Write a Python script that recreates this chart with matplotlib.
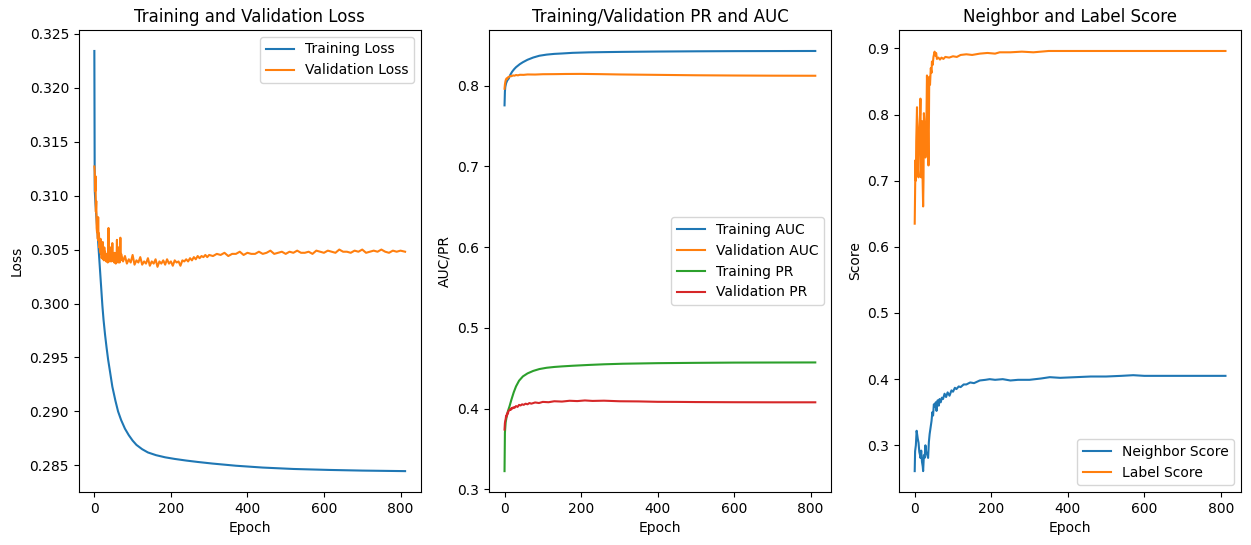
import matplotlib
matplotlib.use("Agg")
import matplotlib.pyplot as plt

# ---- Loss panel ----
train_loss_ep = [0, 1, 3, 6, 9, 12, 15, 18, 21, 24, 28, 32, 36, 40, 47, 55, 62, 70, 80, 90,
                 100, 110, 125, 140, 161, 185, 210, 240, 270, 309, 370, 440, 520, 614, 700, 812]
train_loss = [0.3234, 0.3105, 0.3092, 0.3077, 0.3062, 0.3046, 0.3030, 0.3014, 0.2998, 0.2985,
              0.2971, 0.2959, 0.2948, 0.2939, 0.2923, 0.2910, 0.2900, 0.2892, 0.2884, 0.2878,
              0.2873, 0.2869, 0.2865, 0.2862, 0.28595, 0.28575, 0.2856, 0.28545, 0.28532, 0.28517,
              0.28497, 0.28480, 0.28467, 0.28458, 0.28452, 0.28447]

val_loss_ep = list(range(0, 70)) + list(range(70, 300, 5)) + list(range(300, 810, 10)) + [812]
val_loss = [
    # epochs 0-69
    0.3127, 0.3122, 0.3104, 0.3118, 0.3085, 0.3095, 0.3070, 0.3066, 0.3078, 0.3060,
    0.3080, 0.3058, 0.3065, 0.3052, 0.3056, 0.3048, 0.3060, 0.3046, 0.3054, 0.3042,
    0.3050, 0.3044, 0.3057, 0.3041, 0.3047, 0.3040, 0.3052, 0.3043, 0.3048, 0.3040,
    0.3045, 0.3039, 0.3046, 0.3040, 0.3044, 0.3038, 0.3050, 0.3070, 0.3042, 0.3047,
    0.3039, 0.3044, 0.3040, 0.3052, 0.3039, 0.3046, 0.3041, 0.3056, 0.3040, 0.3045,
    0.3039, 0.3043, 0.3038, 0.3047, 0.3040, 0.3043, 0.3037, 0.3045, 0.3040, 0.3059,
    0.3041, 0.3043, 0.3038, 0.3052, 0.3039, 0.3044, 0.3038, 0.3042, 0.3061, 0.3040,
    # epochs 70-295 step 5
    0.3046, 0.3039, 0.3044, 0.3037, 0.3041, 0.3038, 0.3045, 0.3036, 0.3040, 0.3038,
    0.3043, 0.3036, 0.3039, 0.3037, 0.3042, 0.3035, 0.3039, 0.3037, 0.3041, 0.3034,
    0.3039, 0.3037, 0.3040, 0.3036, 0.3041, 0.3037, 0.3039, 0.3035, 0.3040, 0.3038,
    0.3039, 0.3035, 0.3040, 0.3039, 0.3041, 0.3039, 0.3042, 0.3040, 0.3043, 0.3041,
    0.3044, 0.3042, 0.3044, 0.3043, 0.3045, 0.3043,
    # epochs 300-800 step 10, then 812
    0.3045, 0.3044, 0.3046, 0.3045, 0.3047, 0.3044, 0.3046, 0.3046, 0.3048, 0.3045,
    0.3047, 0.3046, 0.3046, 0.3048, 0.3046, 0.3047, 0.3049, 0.3046, 0.3047, 0.3048,
    0.3046, 0.3048, 0.3047, 0.3049, 0.3047, 0.3047, 0.3048, 0.3046, 0.3049, 0.3048,
    0.3047, 0.3049, 0.3048, 0.3047, 0.3050, 0.3048, 0.3048, 0.3047, 0.3049, 0.3048,
    0.3050, 0.3047, 0.3048, 0.3049, 0.3048, 0.3050, 0.3048, 0.3047, 0.3049, 0.3048,
    0.3049, 0.3048,
]

# ---- AUC / PR panel ----
train_auc_ep = [0, 1, 2, 4, 7, 11, 15, 20, 25, 30, 40, 48, 60, 75, 91, 110, 130, 150, 178,
                220, 260, 309, 400, 500, 600, 700, 812]
train_auc = [0.7757, 0.7930, 0.7985, 0.8030, 0.8065, 0.8090, 0.8135, 0.8175, 0.8205, 0.8230,
             0.8268, 0.8292, 0.8322, 0.8350, 0.8372, 0.8386, 0.8395, 0.8400, 0.8408,
             0.8414, 0.8417, 0.8420, 0.8424, 0.8427, 0.8429, 0.8430, 0.8431]

val_auc_ep = [0, 1, 2, 3, 5, 7, 9, 12, 15, 18, 22, 26, 30, 35, 40, 50, 60, 80, 100, 130,
              160, 200, 250, 300, 400, 500, 600, 700, 812]
val_auc = [0.7963, 0.8015, 0.8045, 0.8068, 0.8090, 0.8085, 0.8105, 0.8110, 0.8122, 0.8118,
           0.8128, 0.8125, 0.8133, 0.8129, 0.8136, 0.8135, 0.8140, 0.8139, 0.8143, 0.8144,
           0.8146, 0.8147, 0.8144, 0.8140, 0.8135, 0.8130, 0.8127, 0.8125, 0.8124]

train_pr_ep = [0, 1, 3, 6, 9, 13, 18, 24, 30, 38, 48, 60, 75, 91, 110, 130, 150, 178, 220,
               260, 309, 400, 500, 600, 700, 812]
train_pr = [0.3224, 0.3700, 0.3830, 0.3910, 0.3970, 0.4027, 0.4110, 0.4200, 0.4274, 0.4345,
            0.4398, 0.4435, 0.4466, 0.4489, 0.4505, 0.4515, 0.4522, 0.4530, 0.4540,
            0.4548, 0.4555, 0.4562, 0.4566, 0.4569, 0.4570, 0.4571]

val_pr_ep = [0, 1, 2, 3, 4, 5, 6, 7, 8, 9, 10, 12, 14, 16, 18, 20, 23, 26, 30, 34, 38, 42,
             46, 50, 55, 60, 65, 70, 80, 90, 100, 115, 130, 150, 170, 190, 210, 230, 260,
             300, 350, 400, 450, 500, 600, 700, 812]
val_pr = [0.3739, 0.3820, 0.3850, 0.3870, 0.3905, 0.3895, 0.3930, 0.3920, 0.3950, 0.3940,
          0.3965, 0.3975, 0.3990, 0.3982, 0.4005, 0.3998, 0.4015, 0.4008, 0.4030, 0.4020,
          0.4045, 0.4038, 0.4052, 0.4045, 0.4060, 0.4052, 0.4068, 0.4060, 0.4075, 0.4068,
          0.4082, 0.4078, 0.4090, 0.4086, 0.4096, 0.4092, 0.4100, 0.4094, 0.4097, 0.4090,
          0.4088, 0.4083, 0.4082, 0.4080, 0.4078, 0.4077, 0.4077]

# ---- Score panel ----
neighbor_ep = [0, 1, 3, 5, 6, 8, 10, 12, 14, 15, 17, 19, 21, 22, 24, 26, 28, 30, 33, 35, 37,
               39, 41, 44, 46, 48, 50, 53, 55, 57, 60, 63, 65, 68, 71, 74, 78, 82, 86, 91,
               96, 100, 105, 109, 115, 120, 128, 135, 145, 155, 170, 185, 196, 210, 230,
               250, 270, 300, 330, 353, 380, 420, 460, 500, 540, 571, 600, 650, 700, 750, 812]
neighbor_score = [0.261, 0.291, 0.300, 0.322, 0.318, 0.310, 0.304, 0.290, 0.285, 0.281, 0.292,
                  0.275, 0.268, 0.261, 0.285, 0.281, 0.300, 0.290, 0.285, 0.281, 0.305,
                  0.317, 0.325, 0.337, 0.350, 0.345, 0.362, 0.358, 0.365, 0.352, 0.368,
                  0.360, 0.370, 0.365, 0.372, 0.370, 0.378, 0.373, 0.380, 0.375, 0.383,
                  0.381, 0.387, 0.385, 0.389, 0.388, 0.392, 0.392, 0.395, 0.394, 0.398,
                  0.399, 0.400, 0.399, 0.400, 0.398, 0.399, 0.399, 0.401, 0.403, 0.402,
                  0.403, 0.404, 0.404, 0.405, 0.406, 0.405, 0.405, 0.405, 0.405, 0.405]

label_ep = [0, 2, 3, 4, 6, 7, 8, 10, 12, 14, 15, 16, 17, 19, 20, 22, 23, 24, 26, 28, 30, 32,
            34, 36, 37, 38, 40, 42, 44, 45, 47, 49, 52, 54, 56, 58, 62, 66, 70, 75, 80, 90,
            100, 110, 120, 135, 150, 170, 190, 210, 222, 250, 280, 310, 350, 400, 500, 600,
            700, 812]
label_score = [0.635, 0.731, 0.700, 0.760, 0.811, 0.760, 0.720, 0.705, 0.780, 0.800, 0.824,
               0.760, 0.705, 0.790, 0.720, 0.661, 0.700, 0.802, 0.780, 0.735, 0.760, 0.859,
               0.800, 0.723, 0.780, 0.857, 0.845, 0.870, 0.863, 0.880, 0.875, 0.887, 0.895,
               0.889, 0.893, 0.884, 0.886, 0.883, 0.886, 0.884, 0.887, 0.886, 0.888, 0.887,
               0.890, 0.891, 0.890, 0.892, 0.893, 0.892, 0.894, 0.894, 0.895, 0.894, 0.896,
               0.896, 0.896, 0.896, 0.896, 0.896]

fig, axes = plt.subplots(1, 3, figsize=(12.51, 5.45), dpi=100)
fig.subplots_adjust(left=0.063, right=0.992, top=0.945, bottom=0.097, wspace=0.2)

ax = axes[0]
ax.plot(train_loss_ep, train_loss, label='Training Loss')
ax.plot(val_loss_ep, val_loss, label='Validation Loss')
ax.set_title('Training and Validation Loss')
ax.set_xlabel('Epoch')
ax.set_ylabel('Loss')
ax.legend(loc='upper right')

ax = axes[1]
ax.plot(train_auc_ep, train_auc, label='Training AUC')
ax.plot(val_auc_ep, val_auc, label='Validation AUC')
ax.plot(train_pr_ep, train_pr, label='Training PR')
ax.plot(val_pr_ep, val_pr, label='Validation PR')
ax.set_title('Training/Validation PR and AUC')
ax.set_xlabel('Epoch')
ax.set_ylabel('AUC/PR')
ax.legend(loc='center right')

ax = axes[2]
ax.plot(neighbor_ep, neighbor_score, label='Neighbor Score')
ax.plot(label_ep, label_score, label='Label Score')
ax.set_title('Neighbor and Label Score')
ax.set_xlabel('Epoch')
ax.set_ylabel('Score')
ax.legend(loc='lower right')

fig.savefig('out.png', dpi=100)
